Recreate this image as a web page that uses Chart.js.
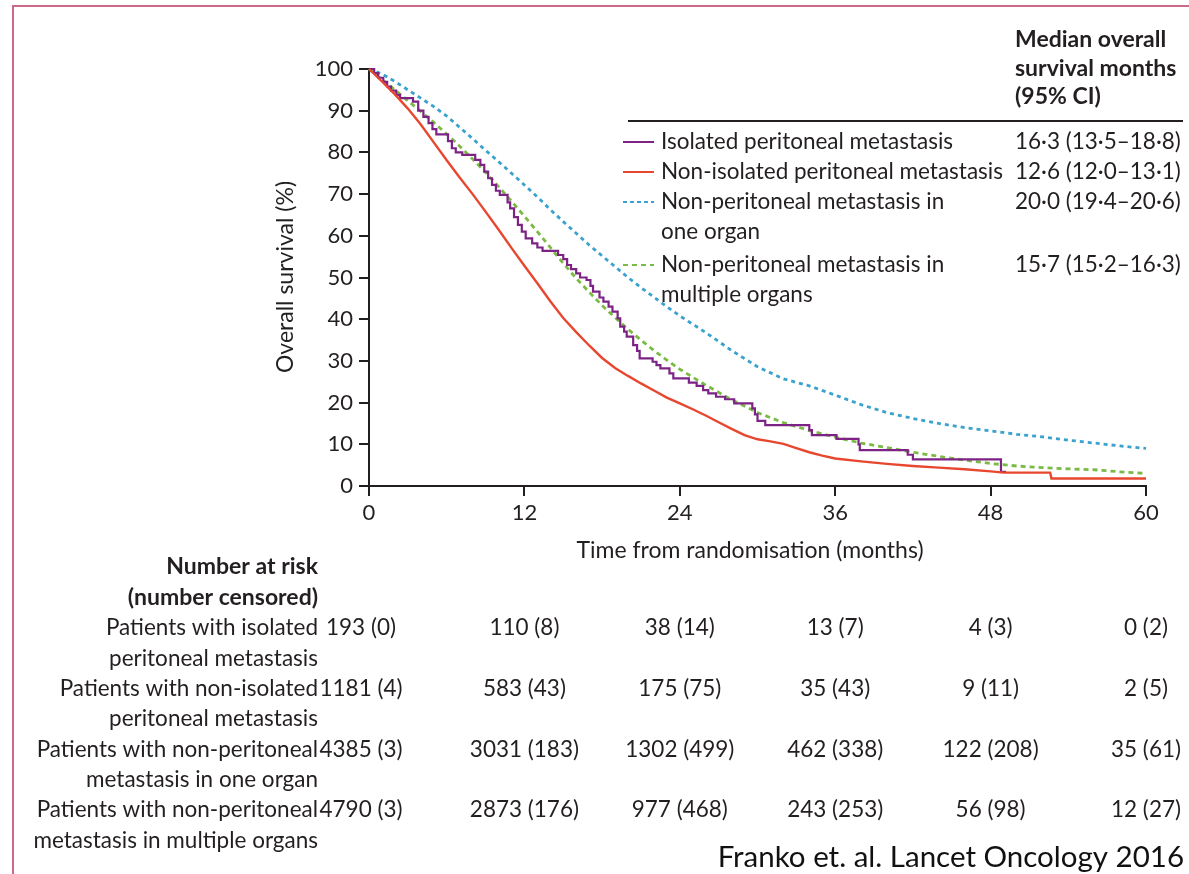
<!DOCTYPE html>
<html>
<head>
<meta charset="utf-8">
<title>Overall survival by metastatic site</title>
<script src="https://cdn.jsdelivr.net/npm/chart.js@4.4.1/dist/chart.umd.min.js"></script>
<style>
  html, body { margin: 0; padding: 0; background: #fff; }
  #wrap { position: relative; width: 1189px; height: 874px; overflow: hidden; }
  #km { position: absolute; left: 0; top: 0; }
  #frame { position: absolute; left: 12px; top: 5px; right: -4px; bottom: -4px;
           border-top: 2px solid #cc6a88; border-left: 2px solid #cc6a88; pointer-events: none; }
</style>
</head>
<body>
<div id="wrap">
  <canvas id="km" width="1189" height="874"></canvas>
  <div id="frame"></div>
</div>
<script>
// ---- Kaplan-Meier estimates (% surviving) ----
const isolatedTimes = [0, 0.4, 0.7, 1.1, 1.4, 1.7, 2.1, 2.4, 3.4, 3.8, 4.2, 4.6, 4.9, 5.2, 6.1, 6.4, 6.7, 7.2, 8.2, 8.6, 8.9, 9.2, 9.5, 9.8, 10.1, 10.7, 10.9, 11.2, 11.5, 11.8, 12.1, 12.6, 13.0, 13.4, 14.6, 15.0, 15.3, 15.6, 16.0, 16.3, 16.8, 17.1, 17.3, 17.8, 18.1, 18.5, 18.8, 19.2, 19.4, 19.7, 19.9, 20.4, 20.7, 20.9, 21.9, 22.2, 22.5, 23.2, 23.5, 24.7, 25.3, 25.8, 26.2, 26.8, 27.5, 28.2, 29.6, 29.8, 30.0, 30.6, 34.0, 34.2, 36.1, 37.8, 37.9, 41.6, 42.0, 48.8, 49.2];
const isolatedSurv  = [100, 99.0, 97.9, 96.9, 95.8, 94.8, 93.8, 93.0, 92.2, 90.0, 88.5, 87.0, 85.6, 84.3, 82.7, 81.0, 80.0, 79.4, 78.2, 77.0, 75.4, 73.8, 72.2, 70.8, 69.8, 68.0, 66.6, 64.5, 62.6, 61.0, 59.4, 58.2, 57.2, 56.4, 55.4, 54.4, 53.0, 52.0, 51.0, 50.0, 49.4, 48.0, 46.6, 45.2, 44.2, 43.0, 41.8, 40.2, 38.2, 37.0, 35.8, 33.8, 32.4, 30.6, 29.8, 29.0, 28.2, 27.0, 25.8, 24.8, 24.0, 23.0, 22.2, 21.4, 20.8, 19.8, 18.6, 17.2, 15.6, 14.6, 13.4, 12.2, 11.3, 10.0, 8.6, 7.5, 6.4, 3.4, 3.4];

const nonIsolatedTimes = [0, 1, 2, 3, 4, 5, 6, 7, 8, 9, 10, 11, 12, 13, 14, 15, 16, 17, 18, 19, 20, 21, 22, 23, 24, 25, 26, 27, 28, 29, 30, 31, 32, 33, 34, 35, 36, 38, 40, 42, 44, 46, 48, 49, 52.6, 52.7, 60];
const nonIsolatedSurv  = [100, 97.0, 93.9, 90.5, 86.7, 82.4, 78.1, 74.0, 70.0, 65.8, 61.5, 57.1, 52.8, 48.6, 44.3, 40.3, 36.9, 33.7, 30.7, 28.3, 26.4, 24.6, 22.9, 21.2, 19.8, 18.4, 16.9, 15.3, 13.7, 12.2, 11.2, 10.7, 10.1, 9.1, 8.1, 7.3, 6.6, 5.9, 5.3, 4.8, 4.4, 4.0, 3.5, 3.2, 3.2, 1.8, 1.8];

const oneOrganTimes = [0, 1, 2, 3, 4, 5, 6, 7, 8, 9, 10, 11, 12, 13, 14, 15, 16, 17, 18, 19, 20, 21, 22, 23, 24, 26, 28, 30, 32, 34, 36, 38, 40, 42, 44, 46, 48, 50, 52, 54, 56, 58, 60];
const oneOrganSurv  = [100, 98.8, 97.0, 95.0, 93.0, 91.0, 88.7, 86.0, 83.3, 80.5, 77.8, 75.0, 72.2, 69.3, 66.3, 63.4, 60.6, 57.8, 55.2, 52.6, 50.0, 47.6, 45.3, 43.0, 40.8, 36.8, 32.5, 28.6, 25.7, 24.0, 21.8, 19.5, 17.6, 16.2, 15.0, 14.0, 13.2, 12.4, 11.8, 11.0, 10.3, 9.6, 9.0];

const multiOrganTimes = [0, 1, 2, 3, 4, 5, 6, 7, 8, 9, 10, 11, 12, 13, 14, 15, 16, 17, 18, 19, 20, 21, 22, 23, 24, 26, 28, 30, 32, 34, 36, 38, 40, 42, 44, 46, 48, 50, 52, 54, 56, 58, 60];
const multiOrganSurv  = [100, 97.5, 95.0, 92.4, 89.8, 87.2, 84.4, 81.5, 78.4, 75.2, 71.8, 68.3, 64.7, 61.0, 57.2, 53.4, 49.8, 46.5, 43.3, 40.4, 37.6, 35.0, 32.5, 30.2, 28.0, 24.2, 20.7, 17.6, 15.2, 13.3, 11.7, 10.3, 9.2, 8.1, 7.1, 6.2, 5.4, 4.8, 4.4, 4.1, 3.9, 3.4, 3.0];

// ---- legend text ----
const groupNames = ['Isolated peritoneal metastasis', 'Non-isolated peritoneal metastasis',
                    'Non-peritoneal metastasis in|one organ', 'Non-peritoneal metastasis in|multiple organs'];
const medianOS = ['16\u00b73 (13\u00b75\u201318\u00b78)', '12\u00b76 (12\u00b70\u201313\u00b71)',
                  '20\u00b70 (19\u00b74\u201320\u00b76)', '15\u00b77 (15\u00b72\u201316\u00b73)'];

// ---- number at risk (number censored) ----
const riskMonths = [0, 12, 24, 36, 48, 60];
const riskLabels = ['Patients with isolated|peritoneal metastasis', 'Patients with non-isolated|peritoneal metastasis',
                    'Patients with non-peritoneal|metastasis in one organ', 'Patients with non-peritoneal|metastasis in multiple organs'];
const atRiskIsolated    = [193, 110, 38, 13, 4, 0];
const censIsolated      = [0, 8, 14, 7, 3, 2];
const atRiskNonIsolated = [1181, 583, 175, 35, 9, 2];
const censNonIsolated   = [4, 43, 75, 43, 11, 5];
const atRiskOneOrgan    = [4385, 3031, 1302, 462, 122, 35];
const censOneOrgan      = [3, 183, 499, 338, 208, 61];
const atRiskMultiOrgan  = [4790, 2873, 977, 243, 56, 12];
const censMultiOrgan    = [3, 176, 468, 253, 98, 27];

const xTicks = [0, 12, 24, 36, 48, 60];
const yTicks = [0, 10, 20, 30, 40, 50, 60, 70, 80, 90, 100];

const INK = '#231f20';
const COLORS = { iso: '#7d2386', non: '#e8472f', one: '#3aa2cc', multi: '#7cba46' };
const FONT = 'Lato';
const BODY = 22.5;   // body text size (px)
const BOLD = 23;     // bold heading size (px)

function pts(times, surv) { return times.map((t, i) => ({ x: t, y: surv[i] })); }

const riskRows = [
  [atRiskIsolated, censIsolated],
  [atRiskNonIsolated, censNonIsolated],
  [atRiskOneOrgan, censOneOrgan],
  [atRiskMultiOrgan, censMultiOrgan]
];

const annotations = {
  id: 'kmText',
  afterDraw(chart) {
    const ctx = chart.ctx;
    const xs = chart.scales.x;
    ctx.save();
    ctx.fillStyle = INK;
    ctx.textBaseline = 'middle';

    // axis titles
    ctx.font = `23px ${FONT}`;
    ctx.textAlign = 'center';
    ctx.fillText('Time from randomisation (months)', 750, 551);
    ctx.save();
    ctx.translate(286, 277);
    ctx.rotate(-Math.PI / 2);
    ctx.fillText('Overall survival (%)', 0, 0);
    ctx.restore();

    // legend header
    ctx.textAlign = 'left';
    ctx.font = `bold ${BOLD}px ${FONT}`;
    ['Median overall', 'survival months', '(95% CI)'].forEach((s, i) => ctx.fillText(s, 1015, 40 + i * 28.5));
    ctx.strokeStyle = INK;
    ctx.lineWidth = 2;
    ctx.beginPath(); ctx.moveTo(628, 121); ctx.lineTo(1183, 121); ctx.stroke();

    // legend rows
    const rowY = [142, 172, 202, 265];
    const keys = ['iso', 'non', 'one', 'multi'];
    const dashes = [[], [], [4, 3], [5, 4]];
    ctx.font = `${BODY}px ${FONT}`;
    keys.forEach((k, i) => {
      ctx.save();
      ctx.strokeStyle = COLORS[k];
      ctx.lineWidth = 2;
      ctx.setLineDash(dashes[i]);
      ctx.beginPath(); ctx.moveTo(623, rowY[i]); ctx.lineTo(654, rowY[i]); ctx.stroke();
      ctx.restore();
      groupNames[i].split('|').forEach((s, j) => ctx.fillText(s, 661, rowY[i] + j * 30));
      ctx.fillText(medianOS[i], 1015, rowY[i]);
    });

    // number at risk table
    ctx.textAlign = 'right';
    ctx.font = `bold ${BOLD}px ${FONT}`;
    ctx.fillText('Number at risk', 318, 567);
    ctx.fillText('(number censored)', 318, 597.5);
    ctx.font = `${BODY}px ${FONT}`;
    riskRows.forEach((row, r) => {
      const y = 628 + r * 60.7;
      riskLabels[r].split('|').forEach((s, j) => {
        ctx.textAlign = 'right';
        ctx.fillText(s, 318, y + j * 30.3);
      });
      ctx.textAlign = 'center';
      riskMonths.forEach((m, c) => {
        const cx = xs.getPixelForValue(m) + (c === 0 ? -8 : 0);
        ctx.fillText(`${row[0][c]} (${row[1][c]})`, cx, y);
      });
    });

    // source line
    ctx.textAlign = 'right';
    ctx.fillStyle = '#111';
    ctx.font = `29.5px ${FONT}`;
    ctx.fillText('Franko et. al. Lancet Oncology 2016', 1184, 857);
    ctx.restore();
  }
};

function axisCommon() {
  return {
    type: 'linear',
    grid: { drawOnChartArea: false, drawTicks: true, tickLength: 10, color: INK, lineWidth: 2 },
    border: { display: true, color: INK, width: 2 },
  };
}

Promise.all([
  document.fonts.load(`${BODY}px ${FONT}`),
  document.fonts.load(`bold ${BOLD}px ${FONT}`)
]).catch(() => {}).then(() => {
  Chart.defaults.font.family = FONT;
  Chart.defaults.color = INK;
  new Chart(document.getElementById('km'), {
    type: 'line',
    data: {
      datasets: [
        { label: 'Non-isolated peritoneal metastasis', data: pts(nonIsolatedTimes, nonIsolatedSurv),
          borderColor: COLORS.non, borderWidth: 2.4, order: 1 },
        { label: 'Isolated peritoneal metastasis', data: pts(isolatedTimes, isolatedSurv),
          borderColor: COLORS.iso, borderWidth: 2.2, stepped: true, order: 2 },
        { label: 'Non-peritoneal metastasis in multiple organs', data: pts(multiOrganTimes, multiOrganSurv),
          borderColor: COLORS.multi, borderWidth: 2.8, borderDash: [5, 4], order: 3 },
        { label: 'Non-peritoneal metastasis in one organ', data: pts(oneOrganTimes, oneOrganSurv),
          borderColor: COLORS.one, borderWidth: 2.8, borderDash: [4, 4], order: 4 }
      ]
    },
    options: {
      responsive: false,
      animation: false,
      events: [],
      elements: { point: { radius: 0 }, line: { tension: 0, fill: false } },
      datasets: { line: { clip: 6 } },
      layout: { padding: { left: 0, top: 69, right: 43, bottom: 0 } },
      plugins: { legend: { display: false }, tooltip: { enabled: false }, title: { display: false } },
      scales: {
        x: Object.assign(axisCommon(), {
          min: 0, max: 60,
          afterBuildTicks(s) { s.ticks = xTicks.map(v => ({ value: v })); },
          ticks: { padding: 4, font: { size: 22 }, color: INK },
          afterFit(s) { s.height = 874 - 486; }
        }),
        y: Object.assign(axisCommon(), {
          min: 0, max: 100,
          afterBuildTicks(s) { s.ticks = yTicks.map(v => ({ value: v })); },
          ticks: { padding: 6, font: { size: 22 }, color: INK },
          afterFit(s) { s.width = 369; }
        })
      }
    },
    plugins: [annotations]
  });
});
</script>
</body>
</html>
